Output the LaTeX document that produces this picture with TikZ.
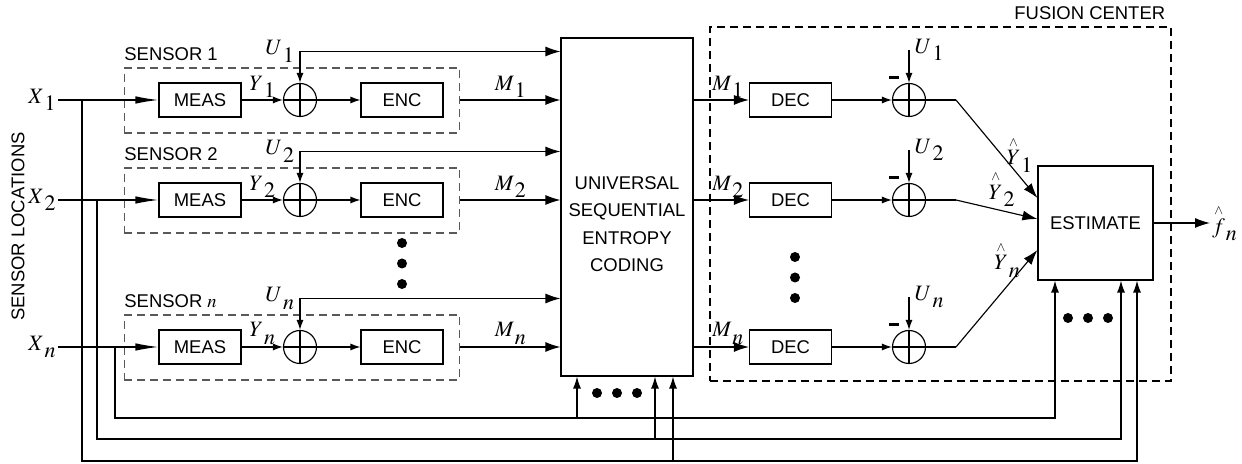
\documentclass[tikz,border=0pt]{standalone}
\usepackage{mathptmx}
\usepackage{amsmath}
\usepackage[no-math]{fontspec}
\setmainfont{Liberation Sans}
\usetikzlibrary{arrows.meta,positioning,calc,fit}
\newcommand{\msub}[2]{$#1\kern0.5pt\raisebox{-0.34em}{$#2$}$}
\newcommand{\mhat}[2]{$\overset{\scriptscriptstyle\wedge}{#1}\kern0.5pt\raisebox{-0.34em}{$#2$}$}

\begin{document}
\begin{tikzpicture}[>={Latex[length=2mm,width=1.4mm]},line width=0.65pt,
  every node/.style={font=\fontsize{10.5}{15.6}\selectfont},
  blk/.style={draw,minimum width=1.64cm,minimum height=0.68cm,inner sep=0pt},
  adder/.style={draw,circle,minimum size=0.66cm,inner sep=0pt,
    path picture={\draw (path picture bounding box.north)--(path picture bounding box.south)
                        (path picture bounding box.west)--(path picture bounding box.east);}},
  group/.style={draw,dash pattern=on 1.6mm off 1mm,inner sep=0pt},
  lbl/.style={font=\fontsize{12.5}{13}\selectfont,inner sep=1pt},
  dot/.style={circle,fill,inner sep=0pt,minimum size=2mm},
  inarr/.style={-{Latex[length=4.6mm,width=1.5mm]}},
  busarr/.style={-{Latex[length=3mm,width=2mm]}},
  uparr/.style={-{Latex[length=2.4mm,width=1.6mm]}}]
\useasboundingbox (0,0) rectangle (24.84,-9.28);

% ===== entropy coder =====
\node[draw,minimum width=2.64cm,minimum height=6.76cm] (usc) at (12.54,-4.14) {};
\node[align=center] (usctxt) at (12.54,-4.48) {UNIVERSAL\\SEQUENTIAL\\ENTROPY\\CODING};

% ===== sensors =====
\foreach \i/\y/\s in {1/-2.0/1,2/-4.0/2,n/-6.94/$n$}{
  \coordinate (in\i) at (1.16,\y);
  \node[lbl,left=0pt of in\i] (xl\i) {\msub{X}{\i}};
  \node[blk] (meas\i) at (4.0,\y) {MEAS};
  \node[adder] (add\i) at (6.0,\y) {};
  \node[blk] (enc\i) at (8.04,\y) {ENC};
  \coordinate (sl\i) at ($(meas\i.west)+(-0.68,0.64)$);
  \coordinate (sr\i) at ($(enc\i.east)+(0.32,-0.66)$);
  \node[group,gray!70!black,fit=(sl\i)(sr\i)] (sens\i) {};
  \node[anchor=south west,inner xsep=0pt] (sn\i) at (sens\i.north west) {SENSOR \s};
  \draw[inarr] (in\i) -- (meas\i);
  \draw[->] (meas\i) -- node[lbl,above] (yl\i) {\msub{Y}{\i}} (add\i);
  \draw[->] (add\i) -- (enc\i);
  \coordinate (u\i) at ($(add\i.center)+(0,0.97)$);
  \node[lbl,left=2pt of u\i] (ul\i) {\msub{U}{\i}};
  \draw[->] (u\i) -- (add\i);
  \draw[busarr] (u\i) -- (usc.west |- u\i);
  \draw[busarr] (sens\i.east |- enc\i) -- node[lbl,above] (ml\i) {\msub{M}{\i}} (usc.west |- enc\i);
}
\foreach \yy [count=\k] in {-4.86,-5.27,-5.68} \node[dot] (ld\k) at (8.04,\yy) {};

% ===== fusion center =====
\foreach \i/\y in {1/-2.0,2/-4.0,n/-6.94}{
  \node[blk] (dec\i) at (15.81,\y) {DEC};
  \draw[busarr] (usc.east |- dec\i) -- node[lbl,above,pos=0.62] (mr\i) {\msub{M}{\i}} (dec\i);
  \node[adder] (sub\i) at (18.18,\y) {};
  \draw[->] (dec\i) -- (sub\i);
  \coordinate (v\i) at ($(sub\i.center)+(0,1.0)$);
  \node[lbl,right=2pt of v\i] (vl\i) {\msub{U}{\i}};
  \draw[->] (v\i) -- (sub\i);
  \node[inner sep=0pt] (mn\i) at ($(sub\i.center)+(-0.3,0.45)$) {\rule{2mm}{0.6mm}};
  \coordinate (k\i) at (19.12,\y);
  \draw (sub\i) -- (k\i);
}
\foreach \yy [count=\k] in {-5.14,-5.55,-5.96} \node[dot] (rd\k) at (15.9,\yy) {};

\node[draw,minimum width=2.3cm,minimum height=2.28cm] (est) at (21.91,-4.46) {ESTIMATE};
\node[group,minimum width=9.22cm,minimum height=7.08cm] (fus) at (18.81,-4.08) {};
\node[anchor=south east] (fustxt) at (fus.north east) {FUSION CENTER};
\draw[busarr] (k1) -- node[lbl,pos=0.78,above=1pt] (yh1) {\mhat{Y}{1}} ($(est.west)+(0,0.5)$);
\draw[busarr] (k2) -- node[lbl,pos=0.56,above=1pt] (yh2) {\mhat{Y}{2}} ($(est.west)+(0,0.08)$);
\draw[busarr] (kn) -- node[lbl,pos=0.9,left=4pt] (yhn) {\mhat{Y}{n}} ($(est.west)+(0,-0.54)$);
\node[lbl,anchor=west] (fhat) at (24.2,-4.46) {\mhat{f}{n}};
\draw[busarr] (est) -- (fhat);

% ===== side information to coder and estimator =====
\foreach \i/\y/\tx/\by/\cx/\ex in {1/-2.0/1.64/-9.22/13.46/22.74,2/-4.0/1.94/-8.78/13.1/22.42,n/-6.94/2.3/-8.36/11.54/21.1}{
  \coordinate (tap\i) at (\tx,\y);
  \coordinate (cb\i) at (\cx,\by);
  \coordinate (eb\i) at (\ex,\by);
  \draw[uparr] (tap\i) |- (eb\i) -- (eb\i |- est.south);
  \draw[uparr] (cb\i) -- (cb\i |- usc.south);
}
\foreach \xx [count=\k] in {11.94,12.34,12.74} \node[dot] (cd\k) at (\xx,-7.86) {};
\foreach \xx [count=\k] in {21.36,21.76,22.16} \node[dot] (ed\k) at (\xx,-6.36) {};

\node[rotate=90] (loc) at (0.36,-4.53) {SENSOR LOCATIONS};
\end{tikzpicture}
\end{document}
